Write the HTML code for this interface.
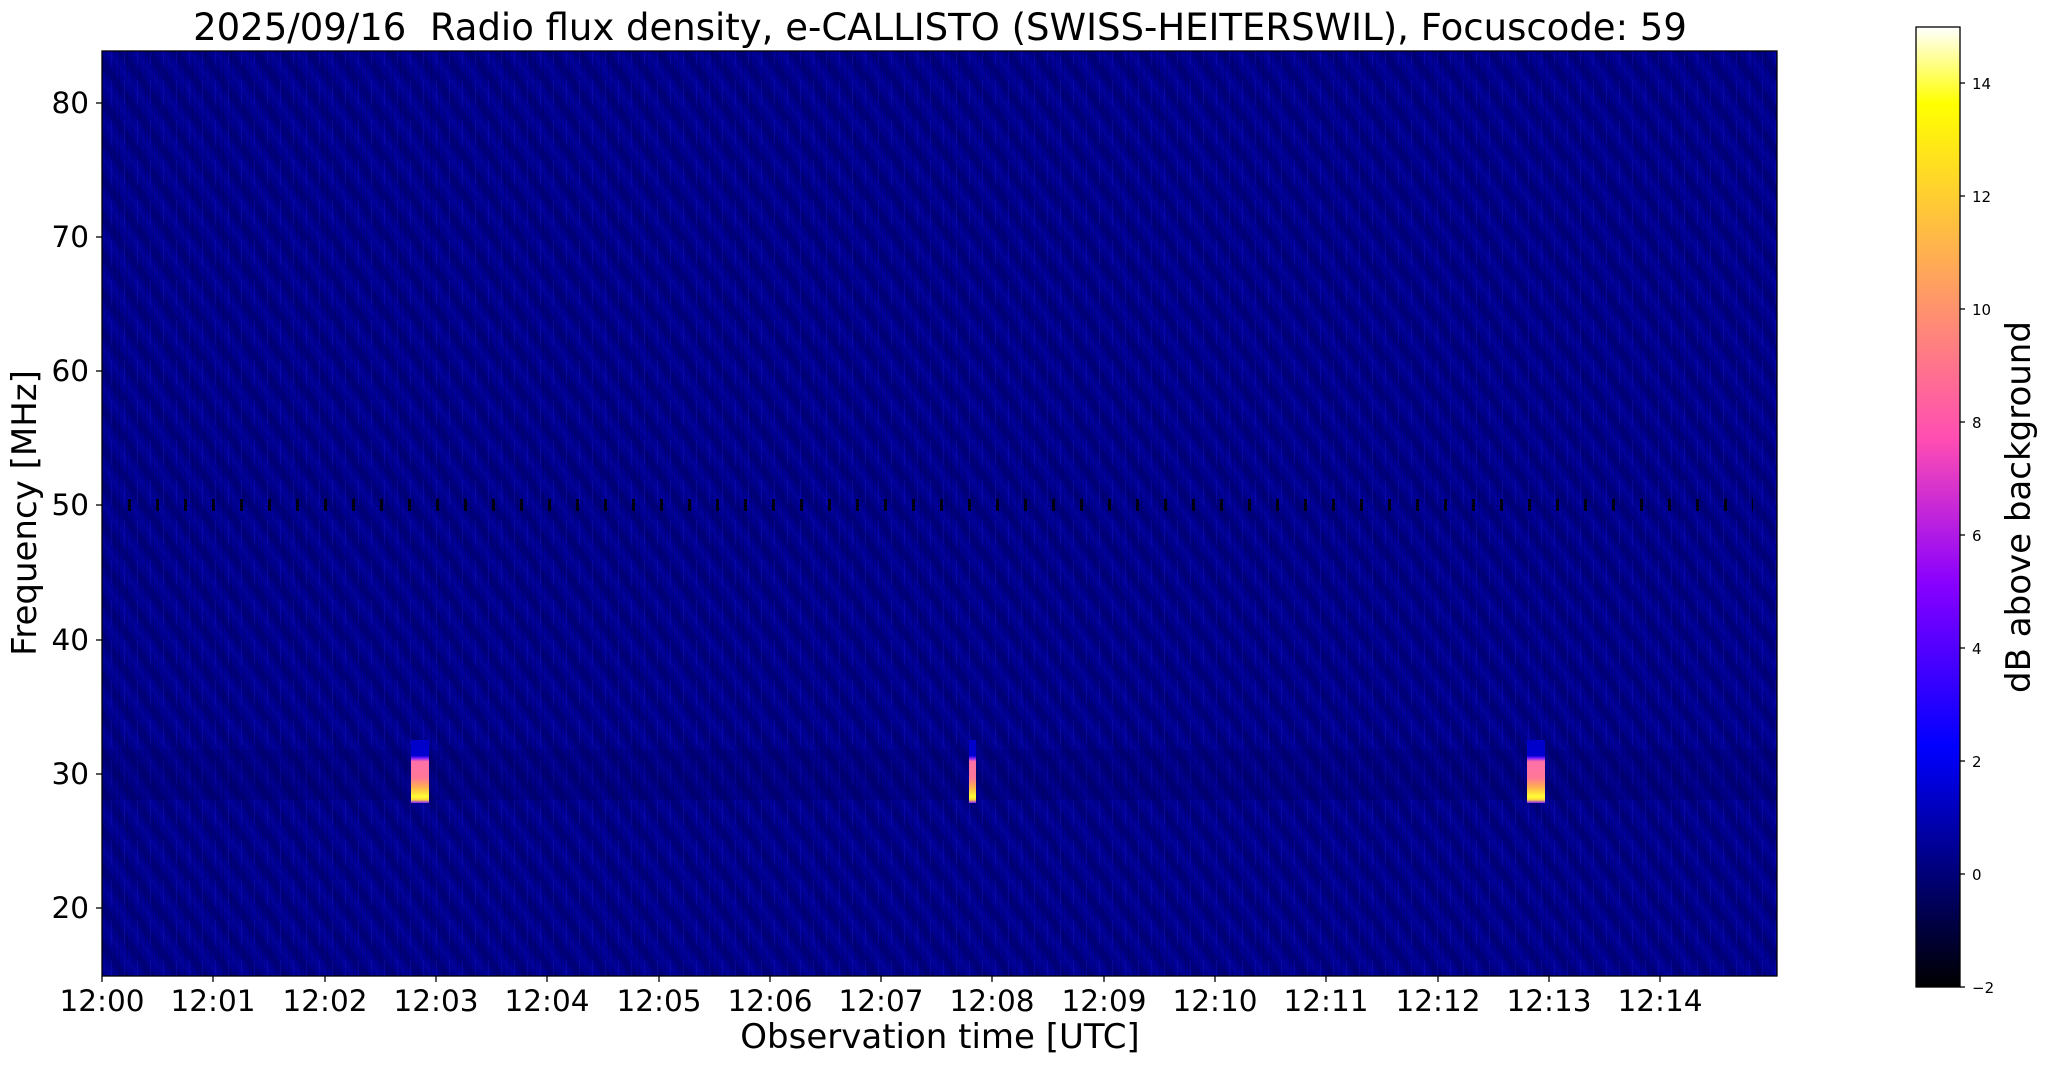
<!DOCTYPE html>
<html><head><meta charset="utf-8"><style>html,body{margin:0;padding:0;background:#fff}svg{display:block}</style></head>
<body>
<svg width="2047" height="1067" xmlns="http://www.w3.org/2000/svg" font-family="'DejaVu Sans','Liberation Sans',sans-serif">
<defs>
<linearGradient id="cb" x1="0" y1="1" x2="0" y2="0">
<stop offset="0" stop-color="#000000"/>
<stop offset="0.244" stop-color="#0000f9"/>
<stop offset="0.25" stop-color="#0000ff"/>
<stop offset="0.42" stop-color="#8800ff"/>
<stop offset="0.57" stop-color="#ff4db3"/>
<stop offset="0.92" stop-color="#ffff00"/>
<stop offset="1" stop-color="#ffffff"/>
</linearGradient>
<pattern id="diag" width="22" height="60" patternUnits="userSpaceOnUse" patternTransform="rotate(-35)">
<rect x="0" width="8" height="60" fill="#000050" opacity="0.3"/>
<rect x="13" width="5" height="60" fill="#1010d0" opacity="0.15"/>
</pattern>
<pattern id="vert" width="13" height="40" patternUnits="userSpaceOnUse">
<rect x="2" width="1" height="40" fill="#000050" opacity="0.3"/>
<rect x="7" width="1" height="25" fill="#2020e0" opacity="0.25"/>
<rect x="10" y="12" width="1" height="28" fill="#000040" opacity="0.25"/>
</pattern>
<pattern id="dots" x="128" y="499" width="28" height="13" patternUnits="userSpaceOnUse">
<rect x="0" y="0" width="3" height="12" fill="#000010"/>
</pattern>
<linearGradient id="b1" x1="0" y1="0" x2="0" y2="1">
<stop offset="0" stop-color="#0000c8"/>
<stop offset="0.25" stop-color="#0000d0"/>
<stop offset="0.29" stop-color="#8020ff"/>
<stop offset="0.34" stop-color="#ff70a8"/>
<stop offset="0.6" stop-color="#ff7898"/>
<stop offset="0.75" stop-color="#ffb050"/>
<stop offset="0.9" stop-color="#ffff30"/>
<stop offset="0.95" stop-color="#ffd040"/>
<stop offset="1" stop-color="#8020ff"/>
</linearGradient>
</defs>
<rect x="102" y="51" width="1675" height="925" fill="#00008e"/>
<rect x="102" y="51" width="1675" height="925" fill="url(#diag)"/>
<rect x="102" y="51" width="1675" height="925" fill="url(#vert)"/>
<rect x="102" y="750" width="1675" height="50" fill="#000050" opacity="0.15"/>
<rect x="128" y="499" width="1625" height="13" fill="url(#dots)"/>
<rect x="411" y="740" width="18" height="63" fill="url(#b1)"/>
<rect x="969" y="740" width="7" height="63" fill="url(#b1)"/>
<rect x="1527" y="740" width="18" height="63" fill="url(#b1)"/>
<rect x="102" y="51" width="1675" height="925" fill="none" stroke="#000" stroke-width="1.3"/>
<g stroke="#000" stroke-width="1.3">
<line x1="96" y1="103" x2="102" y2="103"/><line x1="96" y1="237" x2="102" y2="237"/>
<line x1="96" y1="371" x2="102" y2="371"/><line x1="96" y1="505" x2="102" y2="505"/>
<line x1="96" y1="640" x2="102" y2="640"/><line x1="96" y1="774" x2="102" y2="774"/>
<line x1="96" y1="908" x2="102" y2="908"/>
</g>
<g font-size="29.5" text-anchor="end" fill="#000">
<text x="89" y="113">80</text><text x="89" y="247">70</text><text x="89" y="381">60</text>
<text x="89" y="515">50</text><text x="89" y="650">40</text><text x="89" y="784">30</text>
<text x="89" y="918">20</text>
</g>
<g stroke="#000" stroke-width="1.3">
<line x1="102" y1="976" x2="102" y2="982"/><line x1="213" y1="976" x2="213" y2="982"/>
<line x1="325" y1="976" x2="325" y2="982"/><line x1="436" y1="976" x2="436" y2="982"/>
<line x1="547" y1="976" x2="547" y2="982"/><line x1="659" y1="976" x2="659" y2="982"/>
<line x1="770" y1="976" x2="770" y2="982"/><line x1="881" y1="976" x2="881" y2="982"/>
<line x1="992" y1="976" x2="992" y2="982"/><line x1="1104" y1="976" x2="1104" y2="982"/>
<line x1="1215" y1="976" x2="1215" y2="982"/><line x1="1326" y1="976" x2="1326" y2="982"/>
<line x1="1438" y1="976" x2="1438" y2="982"/><line x1="1549" y1="976" x2="1549" y2="982"/>
<line x1="1660" y1="976" x2="1660" y2="982"/>
</g>
<g font-size="29.5" text-anchor="middle" fill="#000">
<text x="102" y="1011">12:00</text><text x="213" y="1011">12:01</text><text x="325" y="1011">12:02</text>
<text x="436" y="1011">12:03</text><text x="547" y="1011">12:04</text><text x="659" y="1011">12:05</text>
<text x="770" y="1011">12:06</text><text x="881" y="1011">12:07</text><text x="992" y="1011">12:08</text>
<text x="1104" y="1011">12:09</text><text x="1215" y="1011">12:10</text><text x="1326" y="1011">12:11</text>
<text x="1438" y="1011">12:12</text><text x="1549" y="1011">12:13</text><text x="1660" y="1011">12:14</text>
</g>
<text x="940" y="1048" font-size="34" text-anchor="middle">Observation time [UTC]</text>
<text transform="translate(36,513) rotate(-90)" font-size="34" text-anchor="middle">Frequency [MHz]</text>
<text x="940" y="40" font-size="37" text-anchor="middle">2025/09/16&#160; Radio flux density, e-CALLISTO (SWISS-HEITERSWIL), Focuscode: 59</text>
<rect x="1916" y="27" width="44" height="960" fill="url(#cb)" stroke="#000" stroke-width="1.3"/>
<g stroke="#000" stroke-width="1.3">
<line x1="1960" y1="987" x2="1965" y2="987"/><line x1="1960" y1="874" x2="1965" y2="874"/>
<line x1="1960" y1="761" x2="1965" y2="761"/><line x1="1960" y1="648" x2="1965" y2="648"/>
<line x1="1960" y1="535" x2="1965" y2="535"/><line x1="1960" y1="422" x2="1965" y2="422"/>
<line x1="1960" y1="309" x2="1965" y2="309"/><line x1="1960" y1="196" x2="1965" y2="196"/>
<line x1="1960" y1="83" x2="1965" y2="83"/>
</g>
<g font-size="15" fill="#000">
<text x="1972" y="993">−2</text><text x="1972" y="880">0</text><text x="1972" y="767">2</text>
<text x="1972" y="654">4</text><text x="1972" y="541">6</text><text x="1972" y="428">8</text>
<text x="1972" y="315">10</text><text x="1972" y="202">12</text><text x="1972" y="89">14</text>
</g>
<text transform="translate(2030,507) rotate(-90)" font-size="34" text-anchor="middle">dB above background</text>
</svg>
</body></html>
